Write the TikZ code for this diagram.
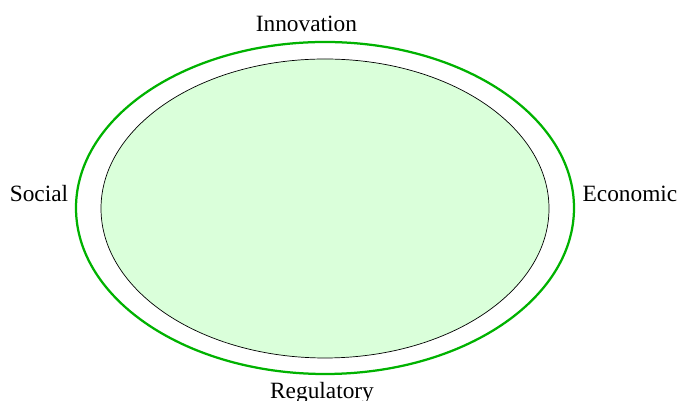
\documentclass[tikz,border=0pt]{standalone}
\usepackage{fontspec}
\setmainfont{Liberation Serif}
\usepackage{tikz}
\usetikzlibrary{shapes.geometric}
\definecolor{ringgreen}{RGB}{0,178,0}
\definecolor{coregreen}{RGB}{218,255,218}
\tikzset{
    every node/.style={font=\fontsize{16.6}{20}\selectfont},
    area/.style={ellipse, inner sep=0pt}
}

\begin{document}
\begin{tikzpicture}
  \useasboundingbox (0cm, 0cm) rectangle (16.975cm, 10.025cm);

  \node (outer) [area, draw=ringgreen, line width=1.6pt,
    minimum width=12.45cm, minimum height=8.3cm] at (8.125cm, 4.825cm) {};
  \node (inner) [area, draw=black, fill=coregreen, line width=0.5pt,
    minimum width=11.2cm, minimum height=7.475cm] at (8.125cm, 4.8125cm) {};

  \node (inn) [anchor=base] at (7.66cm, 9.225cm) {Innovation};
  \node (soc) [anchor=base] at (0.975cm, 4.975cm) {Social};
  \node (eco) [anchor=base] at (15.75cm, 4.975cm) {Economic};
  \node (reg) [anchor=base] at (8.05cm, 0.06cm) {Regulatory};

\end{tikzpicture}
\end{document}
